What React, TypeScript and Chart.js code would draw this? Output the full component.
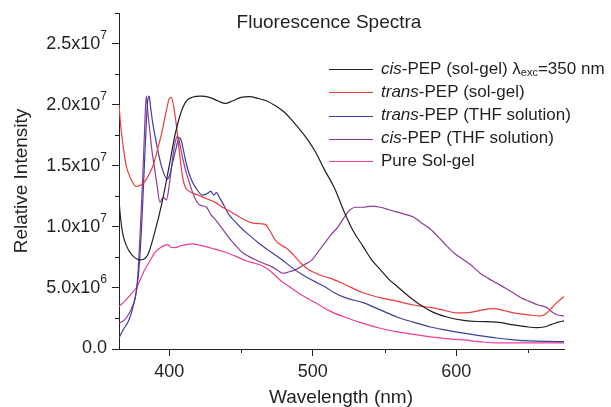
import { useEffect, useRef } from "react";
import { Chart, registerables } from "chart.js";
Chart.register(...registerables);

// Values in units of 1e6 (multiplied by SCALE when building datasets)
const SCALE = 1e6;

const blackX = [365, 366, 367.5, 370, 374, 379.5, 385, 390, 395, 400, 404, 408, 412, 416, 422, 428, 434, 439, 444, 450, 456, 462, 468, 474, 479, 485, 490, 496, 502, 508, 515, 522, 528, 535, 541, 547, 553, 559, 567, 575, 584, 594, 605, 615, 628, 640, 650, 656, 661, 666, 671, 675];
const blackY = [12.2, 10.8, 9.5, 8.5, 7.7, 7.3, 7.7, 9.6, 12.0, 15.0, 17.5, 19.3, 20.3, 20.6, 20.7, 20.6, 20.3, 20.1, 20.3, 20.6, 20.65, 20.5, 20.3, 19.9, 19.5, 18.8, 18.1, 17.2, 16.1, 14.7, 13.2, 11.2, 9.7, 8.4, 7.3, 6.5, 5.7, 5.1, 4.3, 3.6, 3.0, 2.6, 2.35, 2.25, 2.2, 1.97, 1.8, 1.75, 1.8, 2.0, 2.2, 2.3];

const redX = [365, 366, 368, 370, 373, 377, 380, 383, 386, 389, 392, 395, 398, 400, 401.5, 403, 405, 407, 409, 411, 414, 420, 426, 432, 437, 442, 446, 452, 458, 464, 467, 470, 474, 478, 481, 485, 488, 492, 497, 504, 512, 522, 535, 547, 559, 570, 582, 592, 600, 610, 618, 626, 633, 640, 650, 658, 662, 666, 670, 675];
const redY = [20.0, 18.5, 16.5, 15.0, 14.0, 13.3, 13.4, 13.7, 14.3, 15.1, 16.4, 17.8, 19.5, 20.5, 20.6, 19.9, 18.3, 16.2, 14.3, 13.3, 12.9, 12.6, 12.3, 12.0, 11.6, 11.3, 11.0, 10.6, 10.3, 10.25, 10.2, 9.7, 8.9, 8.5, 8.3, 7.9, 7.5, 7.0, 6.5, 6.1, 5.8, 5.3, 4.6, 4.2, 3.9, 3.6, 3.4, 3.15, 2.95, 3.0, 3.2, 3.3, 3.15, 2.95, 2.8, 2.7, 2.85, 3.3, 3.8, 4.3];

const blueX = [365, 368, 372, 375.5, 378, 379.5, 381, 382.5, 384, 385, 386, 387, 388.5, 390, 392.5, 395, 398.5, 400.5, 402, 404.5, 407, 408.5, 410, 412, 414, 416, 419, 423, 426, 429, 431, 433, 435, 437, 441, 446, 451, 456, 462, 470, 478.6, 485, 492.5, 500, 508.5, 515, 522.5, 535, 547, 559, 570, 582, 593, 605, 616, 628, 640, 651, 663, 675];
const blueY = [0.9, 1.6, 2.4, 3.8, 5.5, 7.5, 10.6, 14.5, 18.5, 20.3, 20.7, 19.8, 18.5, 17.5, 16.0, 14.8, 13.9, 14.3, 15.1, 16.3, 17.3, 17.0, 16.2, 15.1, 14.3, 13.7, 13.1, 12.6, 12.7, 12.9, 12.6, 12.8, 12.4, 12.0, 11.1, 10.4, 9.8, 9.3, 8.7, 8.0, 7.3, 6.7, 6.1, 5.6, 5.1, 4.6, 4.2, 3.8, 3.2, 2.6, 2.2, 1.8, 1.55, 1.3, 1.1, 0.9, 0.75, 0.66, 0.62, 0.6];

const purpleX = [365, 369, 372, 374, 377.5, 379.6, 381.5, 383, 384, 385, 386.5, 388, 390, 391.5, 393.5, 395, 396, 398, 400, 401.5, 403, 405, 406, 407.5, 409, 411, 413.5, 416, 418.5, 421, 424, 426, 429, 432, 436, 441, 446, 451, 455, 460, 466, 472, 476, 479, 483, 488, 494, 499.5, 504, 508.5, 513, 517.6, 522, 526, 530, 535, 541, 547, 553, 559, 565, 570, 576, 582, 588, 593.6, 599, 605, 611, 616.6, 622, 628, 634, 639.6, 645, 651, 657, 663, 667, 670, 675];
const purpleY = [2.1, 2.4, 2.9, 3.4, 5.1, 9.2, 14.0, 18.5, 20.7, 19.5, 17.8, 16.2, 14.6, 13.4, 12.0, 12.3, 12.4, 12.2, 13.4, 14.8, 16.2, 17.3, 17.4, 16.7, 15.8, 14.8, 13.8, 12.9, 12.2, 11.8, 11.7, 11.6, 11.0, 10.6, 10.0, 9.2, 8.5, 7.9, 7.6, 7.3, 7.0, 6.7, 6.4, 6.2, 6.3, 6.5, 6.9, 7.3, 8.0, 8.7, 9.4, 10.0, 10.8, 11.4, 11.6, 11.6, 11.7, 11.6, 11.4, 11.2, 11.0, 10.8, 10.3, 9.8, 9.1, 8.4, 7.8, 7.3, 6.8, 6.2, 5.8, 5.4, 5.0, 4.6, 4.2, 3.9, 3.6, 3.4, 3.0, 2.8, 2.7];

const pinkX = [365, 369, 372, 377.5, 383, 387, 390, 394, 397, 399, 401, 404, 408, 412, 416, 421, 425, 431, 437, 442, 448, 454, 460, 465, 469, 474, 478.6, 485, 492.5, 501.6, 512, 522.5, 535, 547, 559, 570, 582, 593, 605, 616, 628, 640, 651, 663, 675];
const pinkY = [3.5, 3.9, 4.3, 5.1, 6.5, 7.3, 7.9, 8.3, 8.5, 8.55, 8.35, 8.3, 8.45, 8.55, 8.6, 8.5, 8.4, 8.2, 8.0, 7.8, 7.5, 7.2, 7.0, 6.8, 6.5, 6.0, 5.5, 5.0, 4.4, 3.8, 3.1, 2.6, 2.1, 1.7, 1.4, 1.2, 1.0, 0.85, 0.74, 0.6, 0.5, 0.5, 0.5, 0.5, 0.5];

const SERIES = [
  { name: "cis-PEP (sol-gel) λexc=350 nm", color: "#231f20", xs: blackX, ys: blackY },
  { name: "trans-PEP (sol-gel)", color: "#ef3b39", xs: redX, ys: redY },
  { name: "trans-PEP (THF solution)", color: "#3c3f9e", xs: blueX, ys: blueY },
  { name: "cis-PEP (THF solution)", color: "#8e3b97", xs: purpleX, ys: purpleY },
  { name: "Pure Sol-gel", color: "#ec3c97", xs: pinkX, ys: pinkY },
];

// legend rich-text segments (real text, styled)
type Seg = { t: string; it?: boolean; sub?: boolean };
const LEGEND_SEGS: Seg[][] = [
  [{ t: "cis", it: true }, { t: "-PEP (sol-gel) λ" }, { t: "exc", sub: true }, { t: "=350 nm" }],
  [{ t: "trans", it: true }, { t: "-PEP (sol-gel)" }],
  [{ t: "trans", it: true }, { t: "-PEP (THF solution)" }],
  [{ t: "cis", it: true }, { t: "-PEP (THF solution)" }],
  [{ t: "Pure Sol-gel" }],
];

const TITLE = "Fluorescence Spectra";
const X_TITLE = "Wavelength (nm)";
const Y_TITLE = "Relative Intensity";
const X_MIN = 365, X_MAX = 675;
const Y_MIN = 0, Y_MAX = 27.5;
const X_TICKS = [400, 500, 600];
const Y_TICKS = [0, 5, 10, 15, 20, 25];
const X_MINOR = [450, 550, 650];
const Y_MINOR = [2.5, 7.5, 12.5, 17.5, 22.5, 27.5];

const FONT = "'Liberation Sans', Arial, Helvetica, sans-serif";
const INK = "#231f20";

const overlay = {
  id: "overlay",
  afterDraw(chart: any) {
    const ctx: CanvasRenderingContext2D = chart.ctx;
    const xs = chart.scales.x;
    const ys = chart.scales.y;
    const area = chart.chartArea;
    ctx.save();
    ctx.strokeStyle = INK;
    ctx.fillStyle = INK;
    ctx.lineWidth = 1;
    // minor ticks
    ctx.beginPath();
    for (const v of X_MINOR) {
      const px = Math.round(xs.getPixelForValue(v)) + 0.5;
      ctx.moveTo(px, area.bottom);
      ctx.lineTo(px, area.bottom + 4);
    }
    for (const v of Y_MINOR) {
      const py = Math.round(ys.getPixelForValue(v * SCALE)) + 0.5;
      ctx.moveTo(area.left - 4, py);
      ctx.lineTo(area.left, py);
    }
    ctx.stroke();

    // y tick labels with superscript exponent
    ctx.textBaseline = "middle";
    for (const tk of ys.ticks) {
      const v = tk.value;
      const py = ys.getPixelForValue(v);
      const rx = area.left - 12;
      if (v === 0) {
        ctx.font = `18px ${FONT}`;
        ctx.textAlign = "right";
        ctx.fillText("0.0", rx, py - 1);
        continue;
      }
      const exp = Math.floor(Math.log10(v) + 1e-9);
      const man = (v / Math.pow(10, exp)).toFixed(1);
      ctx.font = `12px ${FONT}`;
      const sw = ctx.measureText(String(exp)).width;
      ctx.textAlign = "right";
      ctx.fillText(String(exp), rx, py - 8);
      ctx.font = `18px ${FONT}`;
      ctx.fillText(`${man}x10`, rx - sw, py);
    }

    // title
    ctx.textAlign = "center";
    ctx.textBaseline = "middle";
    ctx.font = `19px ${FONT}`;
    ctx.fillText(TITLE, 329, 23);

    // axis titles
    ctx.font = `19px ${FONT}`;
    ctx.fillText(X_TITLE, (area.left + area.right) / 2 - 0.5, 398);
    ctx.save();
    ctx.translate(22, (area.top + area.bottom) / 2);
    ctx.rotate(-Math.PI / 2);
    ctx.fillText(Y_TITLE, 0, 0);
    ctx.restore();

    // legend
    const rows = [69, 92, 115.5, 138.5, 161];
    SERIES.forEach((s, i) => {
      const y = rows[i];
      ctx.strokeStyle = s.color;
      ctx.lineWidth = 1.2;
      ctx.beginPath();
      ctx.moveTo(329, Math.round(y) + 0.5);
      ctx.lineTo(373, Math.round(y) + 0.5);
      ctx.stroke();
      let x = 381;
      ctx.textAlign = "left";
      ctx.textBaseline = "middle";
      ctx.fillStyle = INK;
      for (const seg of LEGEND_SEGS[i]) {
        const size = seg.sub ? 11 : 17;
        ctx.font = `${seg.it ? "italic " : ""}${size}px ${FONT}`;
        ctx.fillText(seg.t, x, seg.sub ? y + 4 : y);
        x += ctx.measureText(seg.t).width;
      }
    });
    ctx.restore();
  },
};

export default function App() {
  const ref = useRef<HTMLCanvasElement | null>(null);
  useEffect(() => {
    document.body.style.margin = "0";
    const canvas = ref.current!;
    const chart = new Chart(canvas, {
      type: "line",
      data: {
        datasets: SERIES.map((s) => ({
          label: s.name,
          data: s.xs.map((x, i) => ({ x, y: s.ys[i] * SCALE })),
          borderColor: s.color,
          borderWidth: 1.2,
          pointRadius: 0,
          fill: false,
          cubicInterpolationMode: "monotone" as const,
        })),
      },
      options: {
        animation: false,
        responsive: false,
        devicePixelRatio: 1,
        layout: { padding: { left: 0, top: 13, right: 47, bottom: 0 } },
        plugins: { legend: { display: false }, title: { display: false }, tooltip: { enabled: false } },
        scales: {
          x: {
            type: "linear",
            min: X_MIN,
            max: X_MAX,
            afterBuildTicks: (sc: any) => { sc.ticks = X_TICKS.map((v) => ({ value: v })); },
            ticks: { color: INK, font: { size: 18, family: FONT }, padding: 5, maxRotation: 0, autoSkip: false },
            grid: { display: true, drawOnChartArea: false, drawTicks: true, tickLength: 7, color: INK },
            border: { display: true, color: INK, width: 1 },
            afterFit: (sc: any) => { sc.height = 58; },
          },
          y: {
            type: "linear",
            min: Y_MIN * SCALE,
            max: Y_MAX * SCALE,
            afterBuildTicks: (sc: any) => { sc.ticks = Y_TICKS.map((v) => ({ value: v * SCALE })); },
            ticks: { display: false, autoSkip: false },
            grid: { display: true, drawOnChartArea: false, drawTicks: true, tickLength: 7, color: INK },
            border: { display: true, color: INK, width: 1 },
            afterFit: (sc: any) => { sc.width = 119; },
          },
        },
      },
      plugins: [overlay],
    });
    return () => chart.destroy();
  }, []);
  return (
    <div style={{ width: 611, height: 407, background: "#fff" }}>
      <canvas ref={ref} width={611} height={407} />
    </div>
  );
}
